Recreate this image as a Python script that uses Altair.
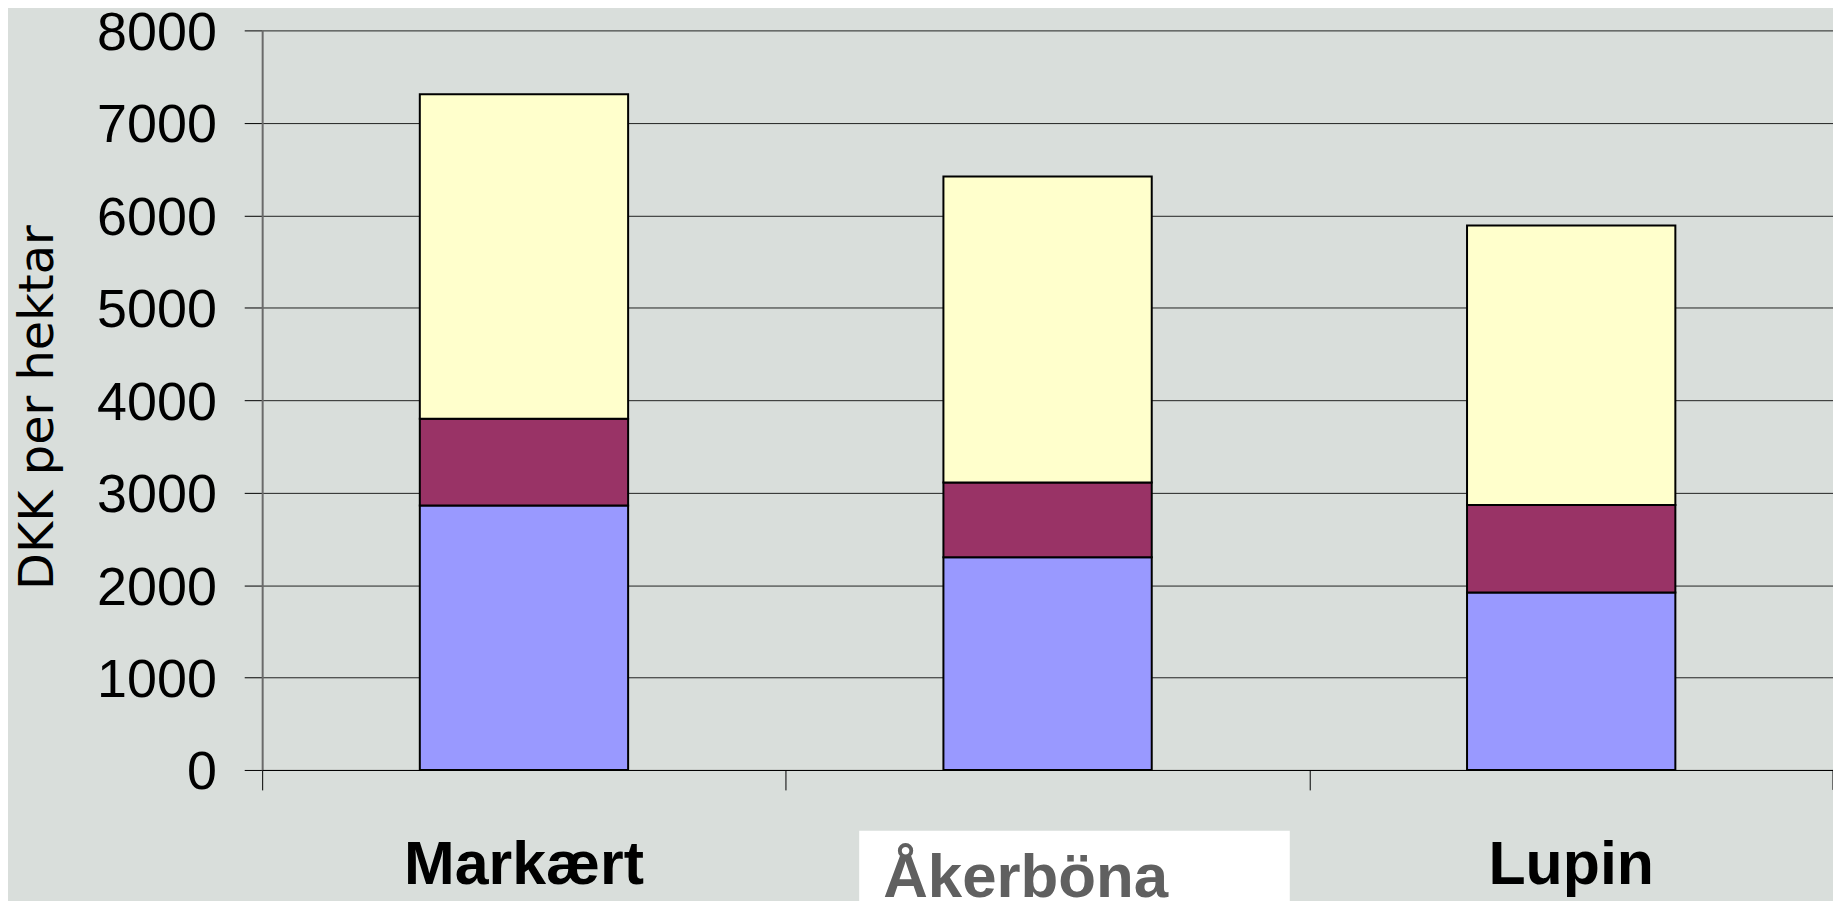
import altair as alt
import pandas as pd

categories = ["Markært", "Åkerböna", "Lupin"]
series_names = ["Serie 1", "Serie 2", "Serie 3"]
serie1 = [2860, 2300, 1920]   # blue (bottom)
serie2 = [940, 810, 945]      # purple (middle)
serie3 = [3510, 3310, 3025]   # yellow (top)
y_ticks = [0, 1000, 2000, 3000, 4000, 5000, 6000, 7000, 8000]
colors = ["#9999ff", "#993366", "#ffffcc"]

rows = []
for i, cat in enumerate(categories):
    for j, vals in enumerate([serie1, serie2, serie3]):
        rows.append({"kategori": cat, "serie": series_names[j], "ordning": j, "verdi": vals[i]})
df = pd.DataFrame(rows)
lab = pd.DataFrame({"kategori": categories})

W, H = 1576, 742

x_scale = alt.Scale(paddingInner=0, paddingOuter=0)
x_enc = alt.X("kategori:N", sort=categories, scale=x_scale,
              axis=alt.Axis(labels=False, title=None, domain=True, domainColor="#000000",
                            domainWidth=1, ticks=True, tickSize=20, tickColor="#000000",
                            tickWidth=1, tickBand="extent", grid=False))
x_plain = alt.X("kategori:N", sort=categories, scale=x_scale)

bars = alt.Chart(df).mark_bar(stroke="#000000", strokeWidth=2, width=209).encode(
    x=x_enc,
    y=alt.Y("verdi:Q", stack="zero",
            scale=alt.Scale(domain=[0, 8000], nice=False),
            axis=alt.Axis(values=y_ticks, title="DKK per hektar", format="d",
                          labelFont="Liberation Sans", labelFontSize=54, labelColor="#000000",
                          labelPadding=28, labelOffset=3, tickSize=18, tickColor="#000000",
                          tickWidth=1, domainColor="#6a6a6a", domainWidth=2,
                          grid=True, gridColor="#000000", gridWidth=1, gridOpacity=0.85,
                          titleFont="DejaVu Sans", titleFontSize=48, titleFontWeight="normal",
                          titleColor="#000000", titleAngle=270, titleX=-224, titleY=378,
                          titleAlign="center", titleBaseline="middle")),
    color=alt.Color("serie:N", scale=alt.Scale(domain=series_names, range=colors), legend=None),
    order=alt.Order("ordning:Q", sort="ascending"),
)

# closing tick at the right end of the category axis
end_tick = alt.Chart(lab).transform_filter(alt.datum.kategori == "Lupin").mark_rule(
    color="#000000", strokeWidth=1
).encode(x=alt.X("kategori:N", sort=categories, scale=x_scale, bandPosition=1),
         y=alt.value(H), y2=alt.value(H + 20))

box = alt.Chart(lab).transform_filter(alt.datum.kategori == "Åkerböna").mark_rect(
    color="#ffffff", width=432, xOffset=27
).encode(x=x_plain, y=alt.value(803), y2=alt.value(900))

txt_black = alt.Chart(lab).transform_filter(alt.datum.kategori != "Åkerböna").mark_text(
    font="Liberation Sans", fontSize=61, fontWeight="bold", color="#000000",
    baseline="alphabetic", align="center"
).encode(x=x_plain, y=alt.value(856), text="kategori:N")

txt_grey = alt.Chart(lab).transform_filter(alt.datum.kategori == "Åkerböna").mark_text(
    font="Liberation Sans", fontSize=62, fontWeight="bold", color="#606060",
    baseline="alphabetic", align="center", dx=-22
).encode(x=x_plain, y=alt.value(869), text="kategori:N")

chart = alt.layer(box, bars, end_tick, txt_black, txt_grey).properties(
    width=W, height=H,
    autosize=alt.AutoSizeParams(type="none"),
    padding={"left": 255, "top": 21, "right": 0, "bottom": 130},
    background="#d9dedb",
).configure_view(stroke=None, fill=None)

chart.save("out.html", embed_options={"renderer": "svg", "actions": False})
